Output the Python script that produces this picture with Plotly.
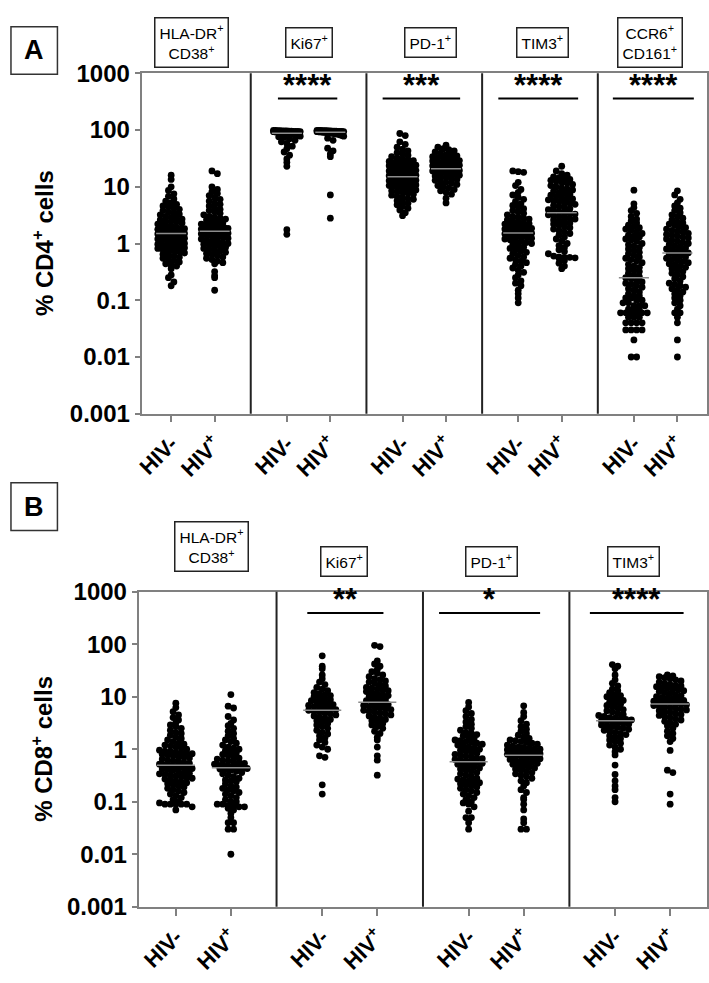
import numpy as np
import plotly.graph_objects as go

# ---------------- data ----------------
groups = ["HIV-", "HIV<sup>+</sup>"]
markers_A = ["HLA-DR<sup>+</sup><br>CD38<sup>+</sup>", "Ki67<sup>+</sup>", "PD-1<sup>+</sup>",
             "TIM3<sup>+</sup>", "CCR6<sup>+</sup><br>CD161<sup>+</sup>"]
markers_B = ["HLA-DR<sup>+</sup><br>CD38<sup>+</sup>", "Ki67<sup>+</sup>", "PD-1<sup>+</sup>", "TIM3<sup>+</sup>"]
sig_A = ["", "****", "***", "****", "****"]
sig_B = ["", "**", "*", "****"]
ytick_vals = [0.001, 0.01, 0.1, 1, 10, 100, 1000]
ytick_text = ["0.001", "0.01", "0.1", "1", "10", "100", "1000"]

cd4_hla_neg = [16, 13.5, 10, 8.6, 7.5, 6.8, 6.1, 5.6, 5.2, 4.9, 4.6, 4.5, 4.2, 4.0, 3.8, 3.6, 3.5, 3.3, 3.2, 3.0,
               2.9, 2.8, 2.7, 2.6, 2.5, 2.45, 2.4, 2.3, 2.2, 2.15, 2.1, 2.0, 1.95, 1.9, 1.85, 1.82, 1.78, 1.75, 1.7,
               1.68, 1.66, 1.63, 1.6, 1.58, 1.55, 1.52, 1.5, 1.47, 1.45, 1.42, 1.4, 1.37, 1.33, 1.3, 1.27, 1.24, 1.2,
               1.17, 1.14, 1.1, 1.07, 1.04, 1.0, 0.97, 0.95, 0.92, 0.9, 0.88, 0.86, 0.84, 0.82, 0.8, 0.77, 0.75, 0.72,
               0.7, 0.68, 0.65, 0.62, 0.6, 0.57, 0.55, 0.52, 0.5, 0.47, 0.44, 0.42, 0.4, 0.36, 0.28, 0.25, 0.21, 0.18]
cd4_hla_pos = [19, 17, 10, 9, 8.2, 7.6, 7.0, 6.5, 6.0, 5.6, 5.2, 4.9, 4.6, 4.3, 4.0, 3.8, 3.6, 3.4, 3.2, 3.0, 2.9,
               2.8, 2.7, 2.6, 2.5, 2.4, 2.3, 2.2, 2.15, 2.1, 2.05, 2.0, 1.95, 1.9, 1.85, 1.8, 1.76, 1.72, 1.68, 1.64,
               1.6, 1.56, 1.52, 1.48, 1.44, 1.4, 1.36, 1.32, 1.28, 1.24, 1.2, 1.16, 1.12, 1.08, 1.04, 1.0, 0.97, 0.94,
               0.91, 0.88, 0.85, 0.82, 0.79, 0.76, 0.73, 0.7, 0.67, 0.64, 0.61, 0.58, 0.55, 0.52, 0.49, 0.46, 0.44,
               0.32, 0.27, 0.25, 0.15]
cd4_ki67_neg = [99, 98.5, 98, 97.5, 97, 96.8, 96.5, 96, 95.5, 95, 94.8, 94.5, 94, 93.5, 93, 92.5, 92, 91.5, 91,
                90.5, 90, 89.5, 89, 88, 87.5, 87, 86, 85, 84, 83, 82, 81, 80, 78, 76, 74, 70, 66, 62, 58, 52, 47,
                41, 36, 31, 27, 23, 1.75, 1.45]
cd4_ki67_pos = [99, 98.8, 98.5, 98, 97.6, 97.2, 97, 96.5, 96, 95.8, 95.5, 95, 94.6, 94.2, 94, 93.5, 93, 92.5, 92,
                91.5, 91, 90, 89.5, 89, 88, 87, 86, 85, 84, 82, 80, 78, 72, 66, 48, 43, 38, 34, 7.2, 2.8]
cd4_pd1_neg = [87, 80, 62, 56, 50, 46, 43, 40, 38, 36, 34, 32, 31, 30, 29, 28, 27, 26, 25.5, 25, 24, 23.5, 23, 22,
               21.5, 21, 20.5, 20, 19.5, 19, 18.6, 18.2, 17.8, 17.4, 17, 16.6, 16.3, 16, 15.7, 15.4, 15.1, 14.8,
               14.5, 14.2, 14, 13.7, 13.4, 13.1, 12.8, 12.5, 12.2, 12, 11.7, 11.4, 11.1, 10.8, 10.5, 10.2, 10, 9.7,
               9.4, 9.1, 8.8, 8.5, 8.2, 8, 7.7, 7.4, 7.1, 6.8, 6.5, 6.2, 6, 5.7, 5.4, 5.1, 4.8, 4.5, 4.2, 3.9, 3.5, 3.1]
cd4_pd1_pos = [54, 50, 47, 45, 43, 41, 39, 37, 36, 35, 34, 33, 32, 31, 30, 29, 28.5, 28, 27, 26.5, 26, 25.5, 25,
               24.5, 24, 23.5, 23, 22.5, 22, 21.5, 21, 20.6, 20.2, 19.8, 19.4, 19, 18.6, 18.2, 17.8, 17.4, 17, 16.5,
               16, 15.5, 15, 14.5, 14, 13.5, 13, 12.5, 12, 11.5, 11, 10.5, 10, 9.5, 9, 8.5, 8, 7.4, 6.3, 5.2]
cd4_tim3_neg = [19, 18.5, 18, 12, 10.5, 9, 8, 7.2, 6.5, 6, 5.5, 5, 4.7, 4.4, 4.1, 3.8, 3.6, 3.4, 3.2, 3.0, 2.9, 2.8,
                2.7, 2.6, 2.5, 2.4, 2.3, 2.25, 2.2, 2.15, 2.1, 2.05, 2.0, 1.95, 1.9, 1.85, 1.8, 1.75, 1.7, 1.65, 1.6,
                1.56, 1.52, 1.48, 1.44, 1.4, 1.36, 1.32, 1.28, 1.24, 1.2, 1.16, 1.12, 1.08, 1.04, 1.0, 0.95, 0.9,
                0.86, 0.82, 0.78, 0.74, 0.7, 0.66, 0.62, 0.58, 0.55, 0.52, 0.49, 0.46, 0.43, 0.4, 0.37, 0.34, 0.31,
                0.28, 0.25, 0.22, 0.2, 0.18, 0.15, 0.13, 0.11, 0.09]
cd4_tim3_pos = [23, 19, 17, 16, 15, 14.5, 14, 13.5, 13, 12.5, 12, 11.5, 11, 10.5, 10, 9.6, 9.2, 8.8, 8.4, 8, 7.7, 7.4,
                7.1, 6.8, 6.5, 6.3, 6.1, 5.9, 5.7, 5.5, 5.3, 5.1, 4.9, 4.7, 4.5, 4.3, 4.1, 3.95, 3.8, 3.65, 3.5, 3.4,
                3.3, 3.2, 3.1, 3.0, 2.9, 2.8, 2.7, 2.6, 2.5, 2.4, 2.3, 2.2, 2.1, 2.0, 1.9, 1.8, 1.7, 1.6, 1.5, 1.4,
                1.3, 1.2, 1.1, 1.0, 0.92, 0.85, 0.78, 0.72, 0.66, 0.6, 0.58, 0.57, 0.57, 0.56, 0.55, 0.5, 0.45, 0.4,
                0.36]
cd4_ccr6_neg = [8.7, 5.0, 4.3, 3.8, 3.4, 3.0, 2.7, 2.5, 2.3, 2.1, 2.0, 1.9, 1.8, 1.7, 1.6, 1.5, 1.4, 1.35, 1.3, 1.2,
                1.15, 1.1, 1.0, 0.95, 0.9, 0.85, 0.8, 0.75, 0.7, 0.66, 0.62, 0.58, 0.55, 0.52, 0.49, 0.46, 0.43, 0.4,
                0.38, 0.36, 0.34, 0.32, 0.3, 0.28, 0.26, 0.25, 0.24, 0.22, 0.21, 0.2, 0.19, 0.18, 0.17, 0.16, 0.15,
                0.14, 0.13, 0.12, 0.12, 0.11, 0.11, 0.1, 0.1, 0.09, 0.09, 0.08, 0.08, 0.08, 0.07, 0.07, 0.07, 0.06,
                0.06, 0.06, 0.06, 0.06, 0.06, 0.05, 0.05, 0.05, 0.04, 0.04, 0.04, 0.04, 0.03, 0.03, 0.03, 0.03, 0.02,
                0.01, 0.01]
cd4_ccr6_pos = [8.5, 7.2, 6.0, 5.2, 4.6, 4.2, 3.8, 3.5, 3.2, 3.0, 2.8, 2.6, 2.4, 2.3, 2.2, 2.1, 2.0, 1.9, 1.8, 1.7,
                1.65, 1.6, 1.5, 1.45, 1.4, 1.35, 1.3, 1.25, 1.2, 1.15, 1.1, 1.05, 1.0, 0.96, 0.92, 0.88, 0.84, 0.8,
                0.77, 0.74, 0.71, 0.68, 0.65, 0.62, 0.6, 0.58, 0.55, 0.52, 0.5, 0.48, 0.46, 0.44, 0.42, 0.4, 0.38,
                0.36, 0.34, 0.32, 0.3, 0.28, 0.26, 0.24, 0.22, 0.2, 0.19, 0.18, 0.17, 0.16, 0.15, 0.14, 0.13, 0.12,
                0.11, 0.1, 0.09, 0.08, 0.07, 0.06, 0.06, 0.05, 0.04, 0.02, 0.01]

cd8_hla_neg = [7.5, 6.2, 5.2, 4.5, 4.0, 3.6, 3.2, 2.9, 2.7, 2.5, 2.3, 2.1, 2.0, 1.85, 1.7, 1.6, 1.5, 1.4, 1.3, 1.25,
               1.2, 1.15, 1.1, 1.05, 1.0, 0.96, 0.92, 0.9, 0.88, 0.86, 0.84, 0.82, 0.8, 0.78, 0.75, 0.72, 0.7, 0.68,
               0.65, 0.62, 0.6, 0.58, 0.56, 0.54, 0.52, 0.5, 0.49, 0.48, 0.47, 0.46, 0.45, 0.44, 0.43, 0.42, 0.41,
               0.4, 0.38, 0.36, 0.35, 0.34, 0.33, 0.32, 0.31, 0.3, 0.29, 0.28, 0.27, 0.26, 0.25, 0.24, 0.23, 0.22,
               0.21, 0.2, 0.19, 0.18, 0.17, 0.16, 0.15, 0.14, 0.13, 0.12, 0.11, 0.1, 0.095, 0.09, 0.09, 0.09, 0.09,
               0.09, 0.08, 0.07]
cd8_hla_pos = [11, 6.6, 6.1, 4.2, 3.6, 3.1, 2.8, 2.5, 2.2, 2.0, 1.8, 1.6, 1.5, 1.4, 1.3, 1.2, 1.1, 1.05, 1.0, 0.95,
               0.9, 0.85, 0.8, 0.76, 0.72, 0.68, 0.65, 0.62, 0.6, 0.58, 0.56, 0.54, 0.52, 0.5, 0.49, 0.48, 0.47, 0.47,
               0.46, 0.46, 0.45, 0.45, 0.44, 0.43, 0.42, 0.41, 0.4, 0.38, 0.36, 0.34, 0.32, 0.3, 0.28, 0.26, 0.25,
               0.24, 0.22, 0.2, 0.19, 0.18, 0.17, 0.16, 0.15, 0.14, 0.13, 0.12, 0.11, 0.1, 0.1, 0.09, 0.09, 0.085,
               0.085, 0.08, 0.08, 0.075, 0.07, 0.06, 0.05, 0.04, 0.04, 0.03, 0.03, 0.01]
cd8_ki67_neg = [60, 38, 34, 26, 22, 19, 17, 15, 14, 13, 12, 11.5, 11, 10.5, 10, 9.6, 9.2, 8.8, 8.4, 8.0, 7.7, 7.4,
                7.1, 6.8, 6.5, 6.3, 6.1, 5.9, 5.7, 5.5, 5.3, 5.1, 4.9, 4.7, 4.5, 4.3, 4.1, 3.9, 3.7, 3.5, 3.3, 3.1,
                2.9, 2.7, 2.5, 2.3, 2.1, 1.95, 1.8, 1.65, 1.5, 1.35, 1.2, 1.1, 1.0, 0.75, 0.7, 0.21, 0.14]
cd8_ki67_pos = [95, 90, 48, 42, 38, 33, 30, 28, 26, 24, 22, 21, 20, 19, 18, 17, 16, 15, 14.5, 14, 13.5, 13, 12.5, 12,
                11.5, 11, 10.5, 10, 9.6, 9.2, 8.8, 8.4, 8, 7.7, 7.4, 7.1, 6.8, 6.5, 6.3, 6.1, 5.9, 5.7, 5.5, 5.3, 5.1,
                4.9, 4.7, 4.5, 4.3, 4.1, 3.9, 3.7, 3.5, 3.3, 3.1, 2.9, 2.7, 2.5, 2.2, 2.0, 1.7, 1.5, 1.1, 0.75, 0.62,
                0.32]
cd8_pd1_neg = [7.8, 6.4, 5.4, 4.8, 4.2, 3.7, 3.3, 3.0, 2.7, 2.5, 2.3, 2.1, 2.0, 1.9, 1.8, 1.7, 1.6, 1.5, 1.45, 1.4,
               1.35, 1.3, 1.25, 1.2, 1.15, 1.1, 1.05, 1.0, 0.96, 0.92, 0.88, 0.84, 0.8, 0.77, 0.74, 0.71, 0.68, 0.66,
               0.64, 0.62, 0.6, 0.58, 0.56, 0.54, 0.52, 0.5, 0.48, 0.46, 0.44, 0.42, 0.4, 0.38, 0.36, 0.34, 0.32,
               0.3, 0.28, 0.27, 0.26, 0.25, 0.24, 0.23, 0.22, 0.21, 0.2, 0.19, 0.18, 0.17, 0.16, 0.15, 0.14, 0.13,
               0.12, 0.11, 0.1, 0.095, 0.09, 0.08, 0.066, 0.05, 0.05, 0.04, 0.03]
cd8_pd1_pos = [6.7, 5.0, 4.2, 3.5, 3.0, 2.7, 2.4, 2.2, 2.0, 1.85, 1.7, 1.6, 1.5, 1.45, 1.4, 1.35, 1.3, 1.25, 1.2,
               1.15, 1.1, 1.08, 1.05, 1.02, 1.0, 0.98, 0.96, 0.94, 0.92, 0.9, 0.88, 0.86, 0.85, 0.84, 0.83, 0.82, 0.8,
               0.78, 0.76, 0.74, 0.72, 0.7, 0.68, 0.66, 0.64, 0.62, 0.6, 0.58, 0.56, 0.54, 0.52, 0.5, 0.48, 0.46,
               0.44, 0.42, 0.4, 0.38, 0.36, 0.34, 0.32, 0.3, 0.28, 0.25, 0.23, 0.2, 0.17, 0.15, 0.12, 0.11, 0.09,
               0.07, 0.047, 0.04, 0.03, 0.03]
cd8_tim3_neg = [41, 38, 34, 26, 21, 18, 16, 14, 13, 12, 11, 10.5, 10, 9.5, 9.0, 8.5, 8.0, 7.6, 7.2, 6.8, 6.4, 6.0,
                5.7, 5.4, 5.1, 4.8, 4.6, 4.4, 4.2, 4.0, 3.9, 3.8, 3.7, 3.6, 3.5, 3.4, 3.3, 3.2, 3.1, 3.0, 2.9, 2.8,
                2.7, 2.6, 2.5, 2.4, 2.3, 2.2, 2.1, 2.0, 1.9, 1.8, 1.7, 1.6, 1.5, 1.4, 1.3, 1.2, 1.1, 1.0, 0.9, 0.78,
                0.5, 0.33, 0.25, 0.2, 0.17, 0.12, 0.1]
cd8_tim3_pos = [26, 25, 24, 23, 22, 21, 20, 19, 18, 17, 16.5, 16, 15.5, 15, 14.5, 14, 13.5, 13, 12.5, 12, 11.5, 11,
                10.5, 10, 9.7, 9.4, 9.1, 8.8, 8.5, 8.2, 8.0, 7.8, 7.6, 7.4, 7.2, 7.0, 6.8, 6.6, 6.4, 6.2, 6.0, 5.8,
                5.6, 5.4, 5.2, 5.0, 4.8, 4.6, 4.4, 4.2, 4.0, 3.8, 3.6, 3.4, 3.2, 3.0, 2.8, 2.5, 2.2, 2.0, 1.8, 1.6,
                1.4, 0.95, 0.4, 0.36, 0.14, 0.09]

panel_A = [(cd4_hla_neg, cd4_hla_pos), (cd4_ki67_neg, cd4_ki67_pos), (cd4_pd1_neg, cd4_pd1_pos),
           (cd4_tim3_neg, cd4_tim3_pos), (cd4_ccr6_neg, cd4_ccr6_pos)]
panel_B = [(cd8_hla_neg, cd8_hla_pos), (cd8_ki67_neg, cd8_ki67_pos), (cd8_pd1_neg, cd8_pd1_pos),
           (cd8_tim3_neg, cd8_tim3_pos)]

# ---------------- layout helpers (pixel geometry) ----------------
W, H = 709, 983
def px(xp): return xp / W
def py(yp): return (H - yp) / H

HALF = 0.188   # HIV-/HIV+ offset from group centre (x data units)

def swarm(vals, ppd, ppu, half_px, row=5.0, gap=5.5):
    v = np.asarray(vals, dtype=float)
    ypx = np.log10(v) * ppd
    bins = np.floor(ypx / row)
    off = np.zeros(len(v))
    for b in np.unique(bins):
        idx = np.where(bins == b)[0]
        n = len(idx)
        if n < 2:
            continue
        s = min(gap, 2 * half_px / (n - 1))
        off[idx] = (np.arange(n) - (n - 1) / 2) * s
    return off / ppu

fig = go.Figure()
shapes, annotations = [], []

panels = [
    dict(data=panel_A, labels=markers_A, sig=sig_A, xa="x", ya="y", left=136, right=707, top=61, bottom=411,
         ppu=117.0, ppd=58.3, half_px=13.5, msize=6.8,
         box_x=[185.5, 304.5, 427.5, 541, 649.5], box_y=[29, 29, 29, 29, 29.5],
         sig_ext=[None, (-0.265, 0.248), (-0.36, 0.31), (-0.36, 0.33), (-0.37, 0.33)], sig_y=87,
         title="% CD4<sup>+</sup> cells", title_y=236, letter="A", letter_box=(3, 13, 50, 62)),
    dict(data=panel_B, labels=markers_B, sig=sig_B, xa="x2", ya="y2", left=133, right=707, top=594, bottom=918,
         ppu=148.0, ppd=54.0, half_px=16.5, msize=6.8,
         box_x=[206, 340, 489.5, 632.5], box_y=[548, 562.5, 562.5, 562.5],
         sig_ext=[None, (-0.29, 0.23), (-0.39, 0.30), (-0.36, 0.28)], sig_y=616,
         title="% CD8<sup>+</sup> cells", title_y=756, letter="B", letter_box=(3, 482, 50, 531)),
]

font = "Liberation Sans, Arial, sans-serif"
axis_col = "#808080"

for p in panels:
    n = len(p["data"])
    for g, pair in enumerate(p["data"]):
        for k, vals in enumerate(pair):
            c = g + (-HALF if k == 0 else HALF)
            xo = swarm(vals, p["ppd"], p["ppu"], p["half_px"])
            fig.add_trace(go.Scatter(x=c + xo, y=vals, mode="markers", xaxis=p["xa"], yaxis=p["ya"],
                                     marker=dict(size=p["msize"], color="black", line=dict(width=0)),
                                     showlegend=False, hoverinfo="skip"))
            med = float(np.median(vals))
            fig.add_trace(go.Scatter(x=[c - 0.13, c + 0.13], y=[med, med], mode="lines",
                                     xaxis=p["xa"], yaxis=p["ya"], line=dict(color="#8c8c8c", width=1.5),
                                     showlegend=False, hoverinfo="skip"))
    # separators
    for g in range(n - 1):
        shapes.append(dict(type="line", xref=p["xa"], yref="paper", x0=g + 0.5, x1=g + 0.5,
                           y0=py(p["bottom"]), y1=py(p["top"]), line=dict(color="#222222", width=2)))
    # marker boxes
    for g, lab in enumerate(p["labels"]):
        annotations.append(dict(text=lab, xref="paper", yref="paper", x=px(p["box_x"][g]), y=py(p["box_y"][g]),
                                xanchor="center", yanchor="middle", showarrow=False,
                                font=dict(family=font, size=15.5, color="black"),
                                bordercolor="#222222", borderwidth=1.5, borderpad=4, bgcolor="white"))
    # significance
    for g, s in enumerate(p["sig"]):
        if not s:
            continue
        a, b = p["sig_ext"][g]
        shapes.append(dict(type="line", xref=p["xa"], yref="paper", x0=g + a, x1=g + b,
                           y0=py(p["sig_y"]), y1=py(p["sig_y"]), line=dict(color="black", width=2)))
        annotations.append(dict(text=s, xref=p["xa"], yref="paper", x=g + (a + b) / 2, y=py(p["sig_y"] - 3),
                                xanchor="center", yanchor="bottom", showarrow=False, yshift=-9,
                                font=dict(family=font, size=31, color="black", weight="bold")))
    # y title
    annotations.append(dict(text=p["title"], xref="paper", yref="paper", x=px(35), y=py(p["title_y"]),
                            textangle=-90, showarrow=False, xanchor="center", yanchor="middle",
                            font=dict(family=font, size=24, color="black", weight="bold")))
    # panel letter
    x0, y0, x1, y1 = p["letter_box"]
    shapes.append(dict(type="rect", xref="paper", yref="paper", x0=px(x0), x1=px(x1), y0=py(y1), y1=py(y0),
                       line=dict(color="#333333", width=1.5)))
    annotations.append(dict(text=p["letter"], xref="paper", yref="paper", x=px((x0 + x1) / 2),
                            y=py((y0 + y1) / 2), showarrow=False, xanchor="center", yanchor="middle",
                            font=dict(family=font, size=27, color="black", weight="bold")))

def xaxis_cfg(p):
    n = len(p["data"])
    tv, tt = [], []
    for g in range(n):
        tv += [g - HALF, g + HALF]
        tt += groups
    return dict(domain=[px(p["left"]), px(p["right"])], showgrid=False, zeroline=False,
                tickmode="array", tickvals=tv, ticktext=tt, tickangle=-45, ticks="outside", ticklen=7,
                tickwidth=1.5, tickcolor=axis_col, showline=True, linecolor=axis_col, linewidth=1.5,
                mirror=True, tickfont=dict(family=font, size=22, color="black", weight="bold"))

def yaxis_cfg(p):
    return dict(domain=[py(p["bottom"]), py(p["top"])], type="log", range=[-3, 3], showgrid=False,
                zeroline=False, tickmode="array", tickvals=ytick_vals, ticktext=ytick_text, ticks="outside",
                ticklen=6, tickwidth=1.5, tickcolor=axis_col, showline=True, linecolor=axis_col, linewidth=1.5,
                mirror=True, tickfont=dict(family=font, size=24, color="black", weight="bold"))

pA, pB = panels
xa = xaxis_cfg(pA); xa.update(range=[-0.436, 4.444], anchor="y")
xb = xaxis_cfg(pB); xb.update(range=[-0.436, 3.44], anchor="y2")
ya = yaxis_cfg(pA); ya.update(anchor="x")
yb = yaxis_cfg(pB); yb.update(anchor="x2")

fig.update_layout(width=W, height=H, margin=dict(l=0, r=0, t=0, b=0), paper_bgcolor="white",
                  plot_bgcolor="white", xaxis=xa, yaxis=ya, xaxis2=xb, yaxis2=yb,
                  shapes=shapes, annotations=annotations, showlegend=False)

fig.write_html("out.html")
